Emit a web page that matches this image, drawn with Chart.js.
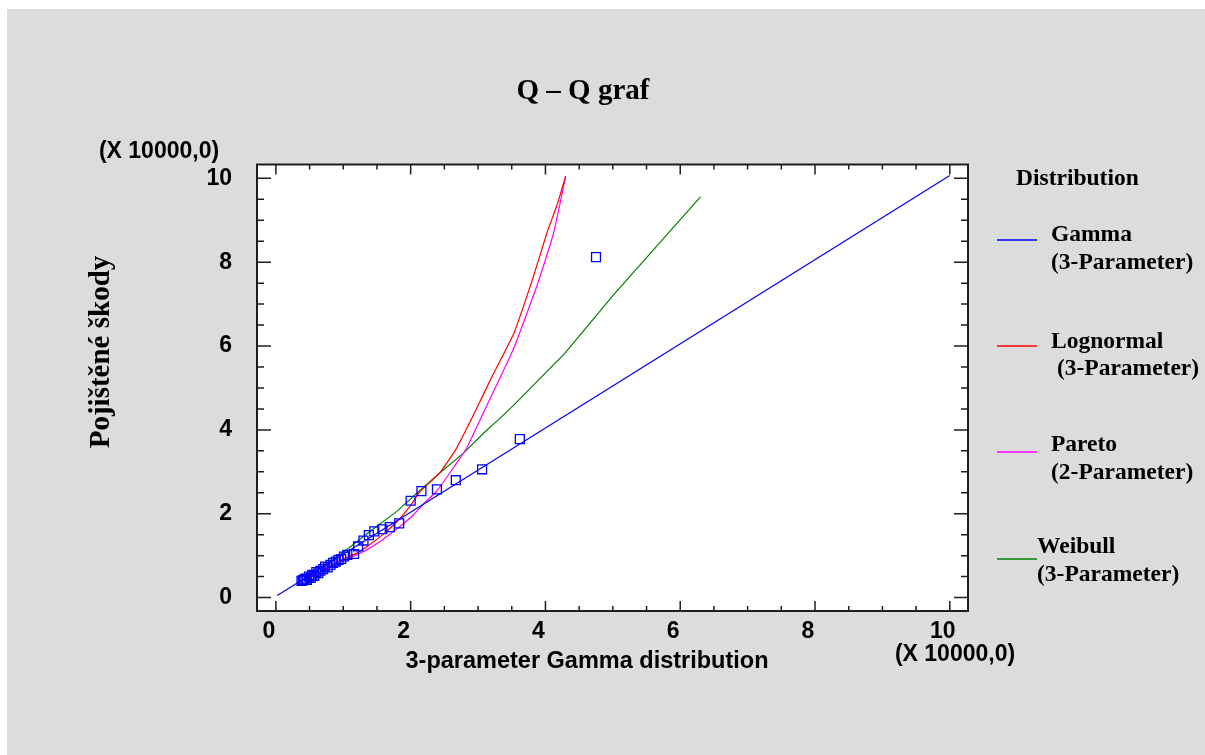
<!DOCTYPE html>
<html>
<head>
<meta charset="utf-8">
<title>Q – Q graf</title>
<script src="https://cdn.jsdelivr.net/npm/chart.js@4.4.0/dist/chart.umd.min.js"></script>
<style>
  html, body { margin: 0; padding: 0; background: #fff; }
  canvas { display: block; }
</style>
</head>
<body>
<canvas id="qq" width="1205" height="755"></canvas>
<script>
// values in units of 10000
const sampleX = [0.38, 0.40, 0.42, 0.44, 0.46, 0.49, 0.52, 0.54, 0.57, 0.60, 0.63, 0.66, 0.70, 0.73,
  0.77, 0.81, 0.85, 0.89, 0.93, 0.97, 1.01, 1.06, 1.16, 1.22, 1.30, 1.38, 1.46, 1.58, 1.69, 1.83,
  2.00, 2.16, 2.39, 2.67, 3.06, 3.62, 4.75];
const sampleY = [0.40, 0.41, 0.43, 0.45, 0.42, 0.50, 0.47, 0.54, 0.52, 0.61, 0.58, 0.64, 0.68, 0.74,
  0.72, 0.78, 0.83, 0.86, 0.90, 0.92, 0.98, 1.02, 1.04, 1.22, 1.36, 1.49, 1.58, 1.63, 1.68, 1.77,
  2.31, 2.54, 2.58, 2.80, 3.06, 3.78, 8.12];

const gammaX = [0.02, 10.0];
const gammaY = [0.05, 10.07];

const lognormX = [0.40, 0.70, 1.00, 1.20, 1.39, 1.60, 1.82, 2.00, 2.14, 2.43, 2.68, 2.97, 3.20, 3.53, 3.82, 4.02, 4.18, 4.30];
const lognormY = [0.42, 0.66, 0.92, 1.06, 1.26, 1.52, 1.85, 2.20, 2.53, 2.97, 3.56, 4.48, 5.25, 6.30, 7.65, 8.69, 9.40, 10.05];

const paretoX = [0.40, 0.70, 1.00, 1.20, 1.39, 1.60, 1.74, 1.86, 2.04, 2.20, 2.38, 2.55, 2.73, 2.83, 3.10, 3.52, 3.87, 4.12, 4.30];
const paretoY = [0.40, 0.63, 0.88, 1.02, 1.18, 1.40, 1.57, 1.72, 1.97, 2.25, 2.53, 2.90, 3.32, 3.56, 4.48, 5.91, 7.42, 8.69, 10.05];

const weibullX = [0.40, 0.70, 1.05, 1.40, 1.79, 2.10, 2.43, 2.78, 3.10, 3.30, 3.53, 4.29, 5.01, 6.30];
const weibullY = [0.43, 0.73, 1.14, 1.58, 2.05, 2.50, 2.97, 3.44, 3.95, 4.24, 4.59, 5.83, 7.22, 9.56];

const xTicks = [0, 2, 4, 6, 8, 10];
const yTicks = [0, 2, 4, 6, 8, 10];

const legendItems = [
  { color: '#0000ff', name: 'Gamma', sub: '(3-Parameter)' },
  { color: '#ff0000', name: 'Lognormal', sub: ' (3-Parameter)' },
  { color: '#ff00ff', name: 'Pareto', sub: '(2-Parameter)' },
  { color: '#008000', name: 'Weibull', sub: '(3-Parameter)' }
];

function pairs(xs, ys) {
  return xs.map((x, i) => ({ x: x, y: ys[i] }));
}

function curve(label, xs, ys, color, tension) {
  return {
    type: 'line',
    label: label,
    data: pairs(xs, ys),
    borderColor: color,
    borderWidth: 1.2,
    pointRadius: 0,
    fill: false,
    tension: tension
  };
}

const serif = '"Liberation Serif", "Times New Roman", serif';
const sans = '"Liberation Sans", Arial, sans-serif';

// background, inward ticks, frame and all the free text
const decor = {
  id: 'decor',
  beforeDraw(chart) {
    const ctx = chart.ctx, a = chart.chartArea;
    ctx.save();
    ctx.fillStyle = '#dcdcdc';
    ctx.fillRect(7, 9, chart.width - 7, chart.height - 9);
    ctx.fillStyle = '#ffffff';
    ctx.fillRect(a.left, a.top, a.right - a.left, a.bottom - a.top);
    ctx.restore();
  },
  afterDatasetsDraw(chart) {
    const ctx = chart.ctx, a = chart.chartArea;
    const xs = chart.scales.x, ys = chart.scales.y;
    ctx.save();
    ctx.strokeStyle = '#1e1e1e';
    ctx.lineWidth = 1.5;
    ctx.beginPath();
    for (let v = 0; v <= 10; v += 0.5) {
      const major = v % 2 === 0;
      const px = xs.getPixelForValue(v);
      const xl = major ? 10 : 5;
      ctx.moveTo(px, a.bottom); ctx.lineTo(px, a.bottom - xl);
      ctx.moveTo(px, a.top); ctx.lineTo(px, a.top + xl);
      const py = ys.getPixelForValue(v);
      const yl = major ? 14 : 7;
      ctx.moveTo(a.left, py); ctx.lineTo(a.left + yl, py);
      ctx.moveTo(a.right, py); ctx.lineTo(a.right - yl, py);
    }
    ctx.stroke();
    ctx.lineWidth = 2;
    ctx.strokeRect(a.left, a.top, a.right - a.left, a.bottom - a.top);
    ctx.restore();
  },
  afterDraw(chart) {
    const ctx = chart.ctx;
    ctx.save();
    ctx.fillStyle = '#000';
    ctx.textBaseline = 'middle';

    ctx.textAlign = 'center';
    ctx.font = 'bold 29px ' + serif;
    ctx.fillText('Q – Q graf', 583, 92);

    ctx.font = 'bold 23px ' + sans;
    ctx.fillText('(X 10000,0)', 159, 152);
    ctx.fillText('(X 10000,0)', 955, 655);
    ctx.font = 'bold 23.5px ' + sans;
    ctx.fillText('3-parameter Gamma distribution', 587, 662);

    ctx.save();
    ctx.translate(102, 352);
    ctx.rotate(-Math.PI / 2);
    ctx.font = 'bold 29px ' + serif;
    ctx.fillText('Pojištěné škody', 0, 0);
    ctx.restore();

    ctx.textAlign = 'left';
    ctx.font = 'bold 23.5px ' + serif;
    ctx.fillText('Distribution', 1016, 179);
    const lineY = [240, 346, 452, 559];
    const nameY = [235, 342, 445, 547];
    const subY = [263, 369, 473, 575];
    const textX = [1051, 1051, 1051, 1037];
    legendItems.forEach((it, i) => {
      ctx.strokeStyle = it.color;
      ctx.lineWidth = 1.3;
      ctx.beginPath();
      ctx.moveTo(997, lineY[i]);
      ctx.lineTo(1037, lineY[i]);
      ctx.stroke();
      ctx.fillText(it.name, textX[i], nameY[i]);
      ctx.fillText(it.sub, textX[i], subY[i]);
    });
    ctx.restore();
  }
};

const tickFont = { family: sans, size: 23, weight: 'bold' };

new Chart(document.getElementById('qq'), {
  type: 'scatter',
  data: {
    datasets: [
      {
        type: 'scatter',
        label: 'Pojištěné škody',
        data: pairs(sampleX, sampleY),
        pointStyle: 'rect',
        pointRadius: 6.3,
        pointBorderWidth: 1.3,
        pointBorderColor: '#0000ff',
        pointBackgroundColor: 'rgba(0,0,0,0)',
        order: 0
      },
      curve('Gamma (3-Parameter)', gammaX, gammaY, '#0000ff', 0),
      curve('Lognormal (3-Parameter)', lognormX, lognormY, '#ff0000', 0.15),
      curve('Pareto (2-Parameter)', paretoX, paretoY, '#ff00ff', 0.15),
      curve('Weibull (3-Parameter)', weibullX, weibullY, '#008000', 0)
    ]
  },
  options: {
    responsive: false,
    animation: false,
    devicePixelRatio: 1,
    layout: { padding: { left: 0, top: 164.5, right: 237, bottom: 0 } },
    plugins: {
      legend: { display: false },
      title: { display: false },
      tooltip: { enabled: false }
    },
    scales: {
      x: {
        type: 'linear',
        min: -0.28,
        max: 10.27,
        afterBuildTicks: s => { s.ticks = xTicks.map(v => ({ value: v })); },
        afterFit: s => { s.height = 144; },
        grid: { display: false, drawTicks: false },
        border: { display: false },
        ticks: { font: tickFont, color: '#000', padding: 7, labelOffset: -7, maxRotation: 0, autoSkip: false }
      },
      y: {
        type: 'linear',
        min: -0.32,
        max: 10.33,
        afterBuildTicks: s => { s.ticks = yTicks.map(v => ({ value: v })); },
        afterFit: s => { s.width = 257; },
        grid: { display: false, drawTicks: false },
        border: { display: false },
        ticks: { font: tickFont, color: '#000', padding: 25, autoSkip: false }
      }
    }
  },
  plugins: [decor]
});
</script>
</body>
</html>
